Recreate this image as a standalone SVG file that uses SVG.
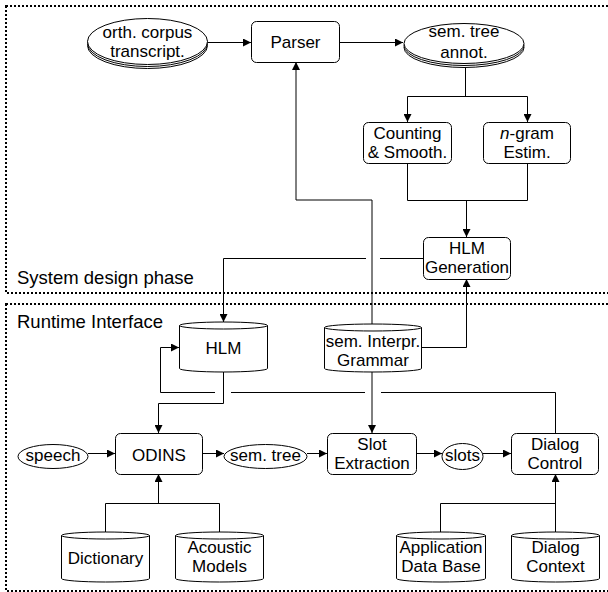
<svg xmlns="http://www.w3.org/2000/svg" width="608" height="592" viewBox="0 0 608 592">
<defs>
<style>
.phase{fill:none;stroke:#000;stroke-width:2;stroke-dasharray:2 2}
.node{fill:#fff;stroke:#000;stroke-width:1}
.t{font-family:"Liberation Sans",Arial,sans-serif;font-size:17px;text-anchor:middle;fill:#000}
.lbl{font-family:"Liberation Sans",Arial,sans-serif;font-size:18.5px;fill:#000}
.c{fill:none;stroke:#000;stroke-width:1}
.a{marker-end:url(#arr)}
</style>
<marker id="arr" viewBox="0 0 8 8" refX="8" refY="4" markerWidth="8" markerHeight="8" markerUnits="userSpaceOnUse" orient="auto">
<path d="M0,0 L8,4 L0,8 z" fill="#000"/>
</marker>
</defs>
<rect width="608" height="592" fill="#fff"/>

<g id="phase-design">
<rect class="phase" x="6" y="6" width="610" height="287"/>
<text class="lbl" x="17" y="284">System design phase</text>
</g>
<g id="phase-runtime">
<rect class="phase" x="6" y="304" width="610" height="287"/>
<text class="lbl" x="17" y="328">Runtime Interface</text>
</g>

<g id="connectors">
<path class="c a" d="M207,42.5 H251"/>
<path class="c a" d="M339,42.5 H403"/>
<path class="c" d="M465.5,64 V96.5 M407.5,96.5 H527.5"/>
<path class="c a" d="M407.5,96.5 V122"/>
<path class="c a" d="M527.5,96.5 V122"/>
<path class="c" d="M407.5,163 V200.5 H527.5 V163"/>
<path class="c a" d="M466.5,200.5 V237"/>
<path class="c a" d="M372,324 V200 H296 V62"/>
<path class="c" d="M423,258.5 H380 M366,258.5 H223.5"/>
<path class="c a" d="M223.5,258.5 V322"/>
<path class="c a" d="M421,347.5 H466.5 V279"/>
<path class="c a" d="M372,372 V433"/>
<path class="c a" d="M223.5,372 V403.5 H158.5 V433"/>
<path class="c" d="M555.5,433 V392.5 H381 M365,392.5 H231 M215,392.5 H160.5"/>
<path class="c a" d="M160.5,392.5 V347.5 H179"/>
<path class="c a" d="M88,453.5 H115"/>
<path class="c a" d="M202,453.5 H224"/>
<path class="c a" d="M307,453.5 H327"/>
<path class="c a" d="M416,453.5 H442"/>
<path class="c a" d="M483,453.5 H511"/>
<path class="c" d="M105.5,532 V503.5 H219.5 V532"/>
<path class="c a" d="M158.5,503.5 V474"/>
<path class="c" d="M440.5,532 V503.5 H555.5"/>
<path class="c a" d="M555.5,532 V474"/>
</g>

<g id="orth-corpus">
<ellipse class="node" cx="147.5" cy="45.5" rx="60" ry="23"/>
<ellipse class="node" cx="147.5" cy="43.5" rx="60" ry="23"/>
<ellipse class="node" cx="147.5" cy="41.5" rx="60" ry="23"/>
<text class="t" x="147.5" y="38">orth. corpus</text>
<text class="t" x="147.5" y="57">transcript.</text>
</g>

<g id="parser">
<rect class="node" x="251.5" y="21.5" width="88" height="41" rx="5"/>
<text class="t" x="295.5" y="48">Parser</text>
</g>

<g id="sem-tree-annot">
<ellipse class="node" cx="464" cy="47.5" rx="60" ry="20"/>
<ellipse class="node" cx="464" cy="45.5" rx="60" ry="20"/>
<ellipse class="node" cx="464" cy="43.5" rx="60" ry="20"/>
<text class="t" x="464" y="37">sem. tree</text>
<text class="t" x="464" y="58">annot.</text>
</g>

<g id="counting">
<rect class="node" x="363.5" y="122.5" width="88" height="41" rx="5"/>
<text class="t" x="407.5" y="139">Counting</text>
<text class="t" x="407.5" y="158">&amp; Smooth.</text>
</g>

<g id="ngram">
<rect class="node" x="483.5" y="122.5" width="87" height="41" rx="5"/>
<text class="t" x="527" y="139"><tspan font-style="italic">n</tspan>-gram</text>
<text class="t" x="527" y="158">Estim.</text>
</g>

<g id="hlm-generation">
<rect class="node" x="423.5" y="237.5" width="87" height="42" rx="5"/>
<text class="t" x="467" y="254">HLM</text>
<text class="t" x="467" y="273">Generation</text>
</g>

<g id="hlm">
<path class="node" d="M179.5,325.5 V368.5 A44,3.5 0 0 0 267.5,368.5 V325.5"/>
<ellipse class="node" cx="223.5" cy="325.5" rx="44" ry="3.5"/>
<text class="t" x="223.5" y="354">HLM</text>
</g>

<g id="grammar">
<path class="node" d="M324.5,327.5 V368.5 A48.5,3.5 0 0 0 421.5,368.5 V327.5"/>
<ellipse class="node" cx="373" cy="327.5" rx="48.5" ry="3.5"/>
<text class="t" x="373" y="347">sem. Interpr.</text>
<text class="t" x="373" y="366">Grammar</text>
</g>

<g id="speech">
<ellipse class="node" cx="53" cy="456.5" rx="35" ry="12"/>
<text class="t" x="53" y="461">speech</text>
</g>

<g id="odins">
<rect class="node" x="115.5" y="433.5" width="87" height="41" rx="5"/>
<text class="t" x="159" y="461">ODINS</text>
</g>

<g id="sem-tree">
<ellipse class="node" cx="265.5" cy="456.5" rx="41.5" ry="12"/>
<text class="t" x="265.5" y="461">sem. tree</text>
</g>

<g id="slot-extraction">
<rect class="node" x="327.5" y="433.5" width="89" height="41" rx="5"/>
<text class="t" x="372" y="450">Slot</text>
<text class="t" x="372" y="469">Extraction</text>
</g>

<g id="slots">
<ellipse class="node" cx="462.5" cy="456.5" rx="20.5" ry="13"/>
<text class="t" x="462.5" y="461">slots</text>
</g>

<g id="dialog-control">
<rect class="node" x="511.5" y="433.5" width="87" height="41" rx="5"/>
<text class="t" x="555" y="450">Dialog</text>
<text class="t" x="555" y="469">Control</text>
</g>

<g id="dictionary">
<path class="node" d="M61.5,535.5 V578.5 A44,3.5 0 0 0 149.5,578.5 V535.5"/>
<ellipse class="node" cx="105.5" cy="535.5" rx="44" ry="3.5"/>
<text class="t" x="105.5" y="564">Dictionary</text>
</g>

<g id="acoustic-models">
<path class="node" d="M175.5,535.5 V578.5 A44,3.5 0 0 0 263.5,578.5 V535.5"/>
<ellipse class="node" cx="219.5" cy="535.5" rx="44" ry="3.5"/>
<text class="t" x="219.5" y="553">Acoustic</text>
<text class="t" x="219.5" y="572">Models</text>
</g>

<g id="application-db">
<path class="node" d="M396.5,535.5 V578.5 A44.5,3.5 0 0 0 485.5,578.5 V535.5"/>
<ellipse class="node" cx="441" cy="535.5" rx="44.5" ry="3.5"/>
<text class="t" x="441" y="553">Application</text>
<text class="t" x="441" y="572">Data Base</text>
</g>

<g id="dialog-context">
<path class="node" d="M511.5,535.5 V578.5 A44,3.5 0 0 0 599.5,578.5 V535.5"/>
<ellipse class="node" cx="555.5" cy="535.5" rx="44" ry="3.5"/>
<text class="t" x="555.5" y="553">Dialog</text>
<text class="t" x="555.5" y="572">Context</text>
</g>
</svg>
